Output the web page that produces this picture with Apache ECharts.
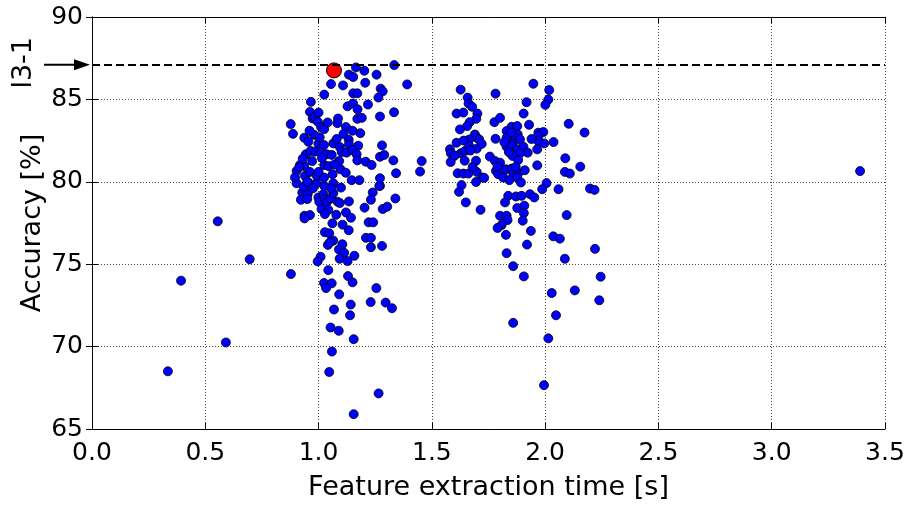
<!DOCTYPE html>
<html><head><meta charset="utf-8">
<script src="https://cdn.jsdelivr.net/npm/echarts@6/dist/echarts.min.js"></script>
<style>html,body{margin:0;padding:0;background:#fff}#c{width:909px;height:506px}</style>
</head><body><div id="c"></div>
<script>
// ---- data ----
const xAxisTitle = 'Feature extraction time [s]';
const yAxisTitle = 'Accuracy [%]';
const referenceLabel = 'l3-1';
const referenceAccuracy = 87.1;
const highlightPoint = [[1.068, 86.76]];

const outliers = [[0.335,68.5],[0.393,74.0],[0.555,77.6],[0.591,70.25],[0.696,75.3],[0.878,74.4],[3.39,80.65]];

const leftClusterLow = [[1.068,72.25],[1.142,72.55],[1.139,71.9],[1.23,72.7],[1.296,72.67],[1.324,72.33],[1.053,71.16],[1.089,70.96],[1.155,70.45],[1.059,69.7],[1.047,68.46],[1.265,67.16],[1.155,65.9]];

const leftClusterMid = [[0.928,79.35],[0.952,79.25],[0.922,78.91],[0.950,78.95],[0.999,79.05],[1.003,78.79],[1.021,79.25],[1.028,78.95],[1.036,78.75],[1.055,78.99],[1.065,79.31],[1.099,79.65],[1.084,78.79],[1.094,78.71],[1.134,78.81],[1.013,78.35],[1.043,78.3],[1.028,78.04],[1.078,78.0],[1.121,78.14],[1.143,77.82],[0.938,77.94],[0.962,77.98],[0.938,77.78],[1.061,77.48],[1.106,77.4],[1.133,77.06],[1.028,76.94],[1.047,76.88],[1.065,76.43],[1.041,76.17],[1.050,76.33],[1.105,76.21],[1.090,75.89],[1.113,75.69],[1.093,75.33],[1.128,75.19],[1.158,75.51],[1.009,75.45],[0.996,75.17],[1.043,74.64],[1.130,74.28],[1.024,73.86],[1.058,73.84],[1.150,73.90],[1.033,73.55],[1.091,73.17],[1.255,73.55],[1.239,79.35],[1.231,78.91],[1.339,78.99],[1.203,78.43],[1.283,78.35],[1.303,78.49],[1.221,77.54],[1.241,77.54],[1.209,76.6],[1.231,76.6],[1.231,76.03],[1.280,76.11],[1.271,79.75],[0.903,79.91],[0.955,79.96],[0.991,79.91],[1.025,79.75],[1.065,79.91],[1.268,79.75],[0.935,79.7],[0.975,79.6],[1.055,79.6]];

const leftClusterHigh = [[1.165,86.94],[1.202,86.74],[1.134,86.5],[1.153,86.36],[1.256,86.5],[1.334,87.08],[1.055,85.93],[1.108,85.85],[1.206,86.01],[1.274,85.65],[1.283,85.49],[1.391,85.91],[1.025,85.29],[1.153,85.37],[1.171,85.37],[1.264,85.11],[0.966,84.85],[1.128,84.58],[1.152,84.75],[1.172,84.4],[1.218,84.69],[0.962,84.24],[0.974,83.84],[0.984,83.94],[0.997,83.64],[1.086,83.84],[1.083,83.56],[1.171,83.82],[1.191,83.88],[1.271,83.96],[1.333,84.22],[0.877,83.5],[0.887,82.91],[1.011,83.32],[1.025,83.2],[1.121,83.32],[1.184,82.95],[0.937,82.67],[0.980,82.85],[0.955,82.43],[0.999,82.31],[1.024,82.23],[1.065,82.33],[1.094,82.11],[1.133,82.55],[1.134,82.27],[1.175,82.19],[1.280,82.21],[0.944,81.67],[0.965,81.87],[0.984,81.83],[1.009,81.77],[1.036,81.67],[1.058,81.63],[1.102,81.81],[1.124,81.77],[1.149,81.93],[1.168,81.67],[1.208,81.22],[1.171,81.3],[1.234,81.02],[1.271,81.52],[1.290,81.63],[1.330,81.3],[1.342,80.52],[1.448,80.62],[1.455,81.26],[0.918,81.02],[0.937,80.96],[0.972,81.26],[1.025,81.02],[1.091,81.26],[1.097,80.76],[1.062,80.46],[0.903,80.66],[0.896,80.26],[0.940,80.36],[0.962,80.6],[0.992,80.36],[1.024,80.26],[1.146,80.1],[1.180,80.1],[1.271,80.22],[0.915,80.9],[0.930,81.4],[0.950,80.0],[1.000,80.6],[1.015,81.45],[1.045,80.95],[1.070,81.05],[1.080,82.6],[1.110,82.9],[1.040,83.6],[0.960,83.1],[1.000,84.2],[1.150,83.1],[1.120,80.55],[1.005,82.7]];

const rightClusterHigh = [[1.948,85.95],[1.627,85.59],[1.781,85.35],[2.018,85.57],[1.658,85.11],[2.014,84.99],[1.662,84.75],[1.678,84.55],[1.918,84.83],[2.001,84.67],[1.609,84.14],[1.639,84.2],[1.701,84.14],[1.696,83.82],[1.905,84.14],[1.776,83.62],[1.801,83.88],[1.667,83.62],[1.656,83.38],[1.624,83.18],[1.852,83.34],[1.877,83.38],[1.830,83.08],[1.929,83.46],[2.104,83.52],[2.174,82.99],[1.690,82.87],[1.698,82.67],[1.709,82.57],[1.665,82.57],[1.609,82.37],[1.781,82.61],[1.852,82.98],[1.879,82.87],[1.859,82.73],[1.830,82.67],[1.889,82.57],[1.856,82.33],[1.970,82.98],[1.992,83.02],[1.970,82.77],[1.970,82.47],[1.996,82.33],[2.037,82.41],[1.580,81.97],[1.584,81.73],[1.599,81.57],[1.628,81.73],[1.646,81.87],[1.665,82.17],[1.698,82.01],[1.583,81.2],[1.645,81.28],[1.695,81.28],[1.756,81.53],[1.779,81.26],[1.801,81.16],[1.830,82.13],[1.852,82.17],[1.877,81.97],[1.904,82.13],[1.923,81.77],[1.889,81.73],[1.856,81.57],[1.881,81.32],[1.965,81.97],[1.965,81.0],[2.089,81.43],[2.155,80.92],[1.600,81.6],[1.640,82.5],[1.670,81.9],[1.720,82.3],[1.820,82.4],[1.840,81.8],[1.850,83.0],[1.940,82.6]];

const rightClusterMid = [[1.614,80.52],[1.639,80.5],[1.661,80.5],[1.698,80.6],[1.723,80.26],[1.731,80.24],[1.783,80.66],[1.793,80.46],[1.815,80.26],[1.827,80.76],[1.852,80.8],[1.859,80.52],[1.881,80.52],[1.877,80.26],[1.893,79.96],[1.842,80.1],[1.695,79.99],[1.631,79.8],[1.620,79.39],[2.006,79.92],[1.987,79.55],[2.059,79.55],[2.087,80.6],[2.109,80.5],[2.198,79.59],[2.218,79.51],[1.837,79.15],[1.871,79.11],[1.896,79.15],[1.933,79.25],[1.952,79.05],[1.870,80.9],[1.910,80.7],[1.680,80.9],[1.790,80.9]];

const rightClusterLow = [[1.650,78.75],[1.715,78.3],[1.823,78.75],[1.877,78.41],[1.908,78.55],[1.906,78.1],[1.801,77.94],[1.830,77.94],[1.834,77.68],[1.901,77.64],[1.808,77.38],[1.790,77.2],[1.827,76.78],[1.937,77.02],[1.920,76.19],[1.830,75.67],[1.859,74.88],[1.906,74.26],[1.859,71.44],[2.095,77.98],[2.036,76.69],[2.065,76.55],[2.220,75.93],[2.087,75.33],[2.245,74.24],[2.029,73.25],[2.131,73.41],[2.239,72.81],[2.048,71.9],[2.014,70.5],[1.995,67.66]];

// ---- chart ----
const FONT = 'DejaVu Sans';
const allPoints = [].concat(outliers, leftClusterLow, leftClusterMid, leftClusterHigh, rightClusterHigh, rightClusterMid, rightClusterLow);
const chart = echarts.init(document.getElementById('c'), null, {renderer: 'canvas'});
const gridLine = {show: true, lineStyle: {color: '#444', width: 1, type: [1, 2]}};
const tick = {show: true, inside: true, length: 6, lineStyle: {color: '#000', width: 1}};
const axisLine = {show: true, lineStyle: {color: '#000', width: 1}};
chart.setOption({
  animation: false,
  backgroundColor: '#fff',
  grid: {left: 92, right: 24, top: 17, bottom: 75},
  xAxis: [{
    type: 'value', min: 0, max: 3.5, interval: 0.5,
    name: xAxisTitle, nameLocation: 'middle', nameGap: 45, nameMoveOverlap: false,
    nameTextStyle: {fontFamily: FONT, fontSize: 27, color: '#000'},
    axisLabel: {fontFamily: FONT, fontSize: 25, color: '#000', margin: 12, formatter: v => v.toFixed(1)},
    axisTick: tick, axisLine: axisLine, splitLine: gridLine
  }, {
    type: 'value', position: 'top', min: 0, max: 3.5, interval: 0.5,
    axisLabel: {show: false}, axisTick: tick, axisLine: axisLine, splitLine: {show: false}
  }],
  yAxis: [{
    type: 'value', min: 65, max: 90, interval: 5,
    name: yAxisTitle, nameLocation: 'middle', nameGap: 46, nameMoveOverlap: false,
    nameTextStyle: {fontFamily: FONT, fontSize: 27, color: '#000'},
    axisLabel: {fontFamily: FONT, fontSize: 25, color: '#000', margin: 9},
    axisTick: tick, axisLine: axisLine, splitLine: gridLine
  }, {
    type: 'value', position: 'right', min: 65, max: 90, interval: 5,
    axisLabel: {show: false}, axisTick: tick, axisLine: axisLine, splitLine: {show: false}
  }],
  series: [{
    type: 'scatter', data: allPoints, symbolSize: 9,
    itemStyle: {color: '#0000ff', borderColor: '#000', borderWidth: 0.8, opacity: 1},
    markLine: {
      silent: true, symbol: ['none', 'none'], animation: false,
      label: {show: false},
      lineStyle: {color: '#000', width: 2, type: [8, 4]},
      data: [{yAxis: referenceAccuracy}]
    },
    z: 3
  }, {
    type: 'scatter', data: highlightPoint, symbolSize: 15,
    itemStyle: {color: '#ff0000', borderColor: '#000', borderWidth: 1, opacity: 1},
    z: 4
  }]
});
const py = chart.convertToPixel({yAxisIndex: 0}, referenceAccuracy);
const px = chart.convertToPixel({xAxisIndex: 0}, 0);
chart.setOption({
  graphic: [
    {type: 'line', shape: {x1: px - 48, y1: py, x2: px - 14, y2: py}, style: {stroke: '#000', lineWidth: 2}},
    {type: 'polygon', shape: {points: [[px - 2, py], [px - 18, py - 5.5], [px - 18, py + 5.5]]}, style: {fill: '#000'}},
    {type: 'text', x: 24, y: py - 2, rotation: Math.PI / 2,
     style: {text: referenceLabel, font: '27px "DejaVu Sans"', fill: '#000', align: 'center', verticalAlign: 'middle'}}
  ]
});
</script>
</body></html>
